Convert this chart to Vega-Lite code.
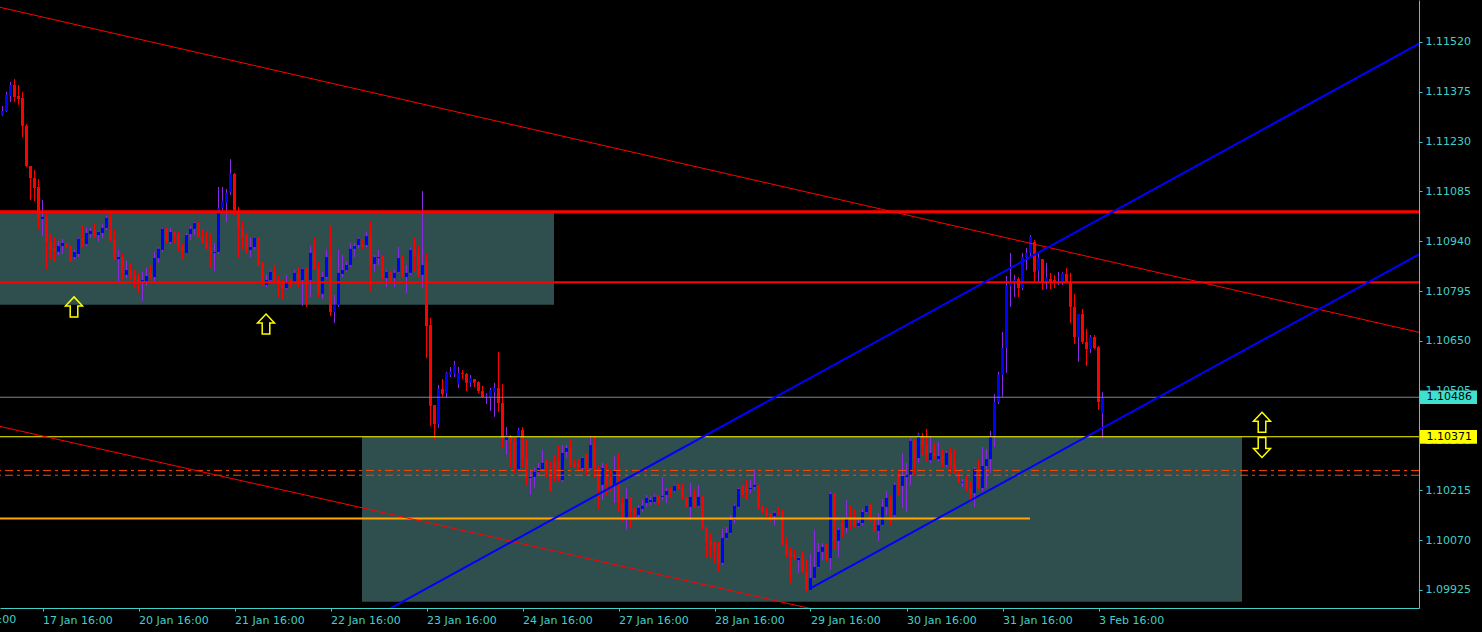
{
"$schema":"https://vega.github.io/schema/vega-lite/v6.json",
"width":1419,"height":608,
"autosize":{"type":"none"},
"padding":{"left":0,"top":0,"right":63,"bottom":24},
"background":"#000000",
"config":{"view":{"stroke":null},"axis":{"labelFont":"DejaVu Sans","labelFontSize":11,"labelColor":"#40D0C8","domainColor":"#40D0C8","tickColor":"#40D0C8","grid":false}},
"datasets":{"candles":[
{"x":0,"o":1.11308,"h":1.11334,"l":1.11305,"c":1.11319},
{"x":1,"o":1.11319,"h":1.11375,"l":1.11316,"c":1.11366},
{"x":2,"o":1.11363,"h":1.11404,"l":1.11345,"c":1.11395},
{"x":3,"o":1.11395,"h":1.11412,"l":1.11345,"c":1.1136},
{"x":4,"o":1.11363,"h":1.11395,"l":1.11337,"c":1.11354},
{"x":5,"o":1.11357,"h":1.11375,"l":1.11243,"c":1.11276},
{"x":6,"o":1.11276,"h":1.11281,"l":1.11156,"c":1.11159},
{"x":7,"o":1.11159,"h":1.11159,"l":1.1106,"c":1.11124},
{"x":8,"o":1.11124,"h":1.11147,"l":1.11057,"c":1.11095},
{"x":9,"o":1.11098,"h":1.11121,"l":1.10976,"c":1.11005},
{"x":10,"o":1.11005,"h":1.1106,"l":1.10955,"c":1.11011},
{"x":11,"o":1.11011,"h":1.11019,"l":1.10859,"c":1.10938},
{"x":12,"o":1.10938,"h":1.10961,"l":1.10888,"c":1.10915},
{"x":13,"o":1.1092,"h":1.1095,"l":1.1088,"c":1.10909},
{"x":14,"o":1.10909,"h":1.10941,"l":1.109,"c":1.10926},
{"x":15,"o":1.10926,"h":1.10947,"l":1.10903,"c":1.10935},
{"x":16,"o":1.10935,"h":1.10935,"l":1.1092,"c":1.10923},
{"x":17,"o":1.10926,"h":1.10929,"l":1.1088,"c":1.10883},
{"x":18,"o":1.10894,"h":1.10915,"l":1.10888,"c":1.10909},
{"x":19,"o":1.10903,"h":1.1095,"l":1.10894,"c":1.10947},
{"x":20,"o":1.1095,"h":1.10987,"l":1.10923,"c":1.10923},
{"x":21,"o":1.10932,"h":1.10979,"l":1.10926,"c":1.10964},
{"x":22,"o":1.10961,"h":1.10979,"l":1.1095,"c":1.1097},
{"x":23,"o":1.10973,"h":1.1099,"l":1.1095,"c":1.10955},
{"x":24,"o":1.10958,"h":1.1097,"l":1.10938,"c":1.10967},
{"x":25,"o":1.10964,"h":1.1099,"l":1.1095,"c":1.10979},
{"x":26,"o":1.10979,"h":1.11014,"l":1.10973,"c":1.11008},
{"x":27,"o":1.11008,"h":1.11022,"l":1.10938,"c":1.10944},
{"x":28,"o":1.10944,"h":1.10973,"l":1.10886,"c":1.10888},
{"x":29,"o":1.10888,"h":1.10915,"l":1.10824,"c":1.10894},
{"x":30,"o":1.10894,"h":1.10903,"l":1.10827,"c":1.10848},
{"x":31,"o":1.10842,"h":1.10883,"l":1.10833,"c":1.10856},
{"x":32,"o":1.10854,"h":1.10874,"l":1.10827,"c":1.10836},
{"x":33,"o":1.10839,"h":1.10856,"l":1.10804,"c":1.10827},
{"x":34,"o":1.10836,"h":1.10848,"l":1.1079,"c":1.10822},
{"x":35,"o":1.10824,"h":1.10851,"l":1.10766,"c":1.10827},
{"x":36,"o":1.10824,"h":1.10862,"l":1.1081,"c":1.10839},
{"x":37,"o":1.10848,"h":1.10871,"l":1.10827,"c":1.10833},
{"x":38,"o":1.10836,"h":1.10909,"l":1.10824,"c":1.10891},
{"x":39,"o":1.10891,"h":1.10923,"l":1.10877,"c":1.10918},
{"x":40,"o":1.10915,"h":1.10979,"l":1.10909,"c":1.10976},
{"x":41,"o":1.10976,"h":1.10979,"l":1.10935,"c":1.10938},
{"x":42,"o":1.10938,"h":1.10979,"l":1.10932,"c":1.10967},
{"x":43,"o":1.10967,"h":1.1097,"l":1.10935,"c":1.10958},
{"x":44,"o":1.10961,"h":1.10967,"l":1.10909,"c":1.10923},
{"x":45,"o":1.10926,"h":1.10935,"l":1.10888,"c":1.10906},
{"x":46,"o":1.10906,"h":1.10964,"l":1.10906,"c":1.10958},
{"x":47,"o":1.10961,"h":1.10984,"l":1.10944,"c":1.10976},
{"x":48,"o":1.10976,"h":1.10996,"l":1.10958,"c":1.10993},
{"x":49,"o":1.10993,"h":1.10996,"l":1.1095,"c":1.10952},
{"x":50,"o":1.10952,"h":1.10976,"l":1.10935,"c":1.10938},
{"x":51,"o":1.10941,"h":1.10967,"l":1.10915,"c":1.1092},
{"x":52,"o":1.10923,"h":1.10964,"l":1.10865,"c":1.10906},
{"x":53,"o":1.10906,"h":1.10935,"l":1.10853,"c":1.10909},
{"x":54,"o":1.10909,"h":1.11098,"l":1.10903,"c":1.11037},
{"x":55,"o":1.11037,"h":1.11098,"l":1.11031,"c":1.11057},
{"x":56,"o":1.11051,"h":1.11092,"l":1.10996,"c":1.11081},
{"x":57,"o":1.11083,"h":1.11179,"l":1.11075,"c":1.11136},
{"x":58,"o":1.11136,"h":1.11139,"l":1.11016,"c":1.11031},
{"x":59,"o":1.11025,"h":1.1104,"l":1.10891,"c":1.10979},
{"x":60,"o":1.10976,"h":1.10996,"l":1.10918,"c":1.10952},
{"x":61,"o":1.10958,"h":1.10964,"l":1.10906,"c":1.10915},
{"x":62,"o":1.10915,"h":1.1095,"l":1.10894,"c":1.10923},
{"x":63,"o":1.10923,"h":1.10952,"l":1.10915,"c":1.1095},
{"x":64,"o":1.1095,"h":1.10952,"l":1.10868,"c":1.10871},
{"x":65,"o":1.10877,"h":1.1088,"l":1.1081,"c":1.10822},
{"x":66,"o":1.10813,"h":1.10842,"l":1.10807,"c":1.10827},
{"x":67,"o":1.10827,"h":1.10856,"l":1.10822,"c":1.10851},
{"x":68,"o":1.10851,"h":1.10871,"l":1.10819,"c":1.10822},
{"x":69,"o":1.10827,"h":1.10842,"l":1.10778,"c":1.10816},
{"x":70,"o":1.10822,"h":1.10827,"l":1.10772,"c":1.10804},
{"x":71,"o":1.10804,"h":1.10842,"l":1.10801,"c":1.10819},
{"x":72,"o":1.10822,"h":1.1083,"l":1.10804,"c":1.10816},
{"x":73,"o":1.10822,"h":1.10856,"l":1.10819,"c":1.10848},
{"x":74,"o":1.10848,"h":1.10862,"l":1.10807,"c":1.1083},
{"x":75,"o":1.10827,"h":1.10862,"l":1.10752,"c":1.10859},
{"x":76,"o":1.10859,"h":1.10862,"l":1.10749,"c":1.10813},
{"x":77,"o":1.10827,"h":1.10926,"l":1.10778,"c":1.10906},
{"x":78,"o":1.10909,"h":1.1095,"l":1.10856,"c":1.10859},
{"x":79,"o":1.10862,"h":1.1088,"l":1.10778,"c":1.10784},
{"x":80,"o":1.10787,"h":1.10851,"l":1.10772,"c":1.10836},
{"x":81,"o":1.10836,"h":1.10915,"l":1.1083,"c":1.10894},
{"x":82,"o":1.10897,"h":1.10984,"l":1.10722,"c":1.10734},
{"x":83,"o":1.10734,"h":1.10784,"l":1.10702,"c":1.10755},
{"x":84,"o":1.10755,"h":1.10915,"l":1.10749,"c":1.10848},
{"x":85,"o":1.10845,"h":1.109,"l":1.10836,"c":1.10856},
{"x":86,"o":1.10856,"h":1.1088,"l":1.10851,"c":1.10871},
{"x":87,"o":1.10871,"h":1.10935,"l":1.10865,"c":1.10918},
{"x":88,"o":1.10918,"h":1.10935,"l":1.10894,"c":1.10926},
{"x":89,"o":1.10929,"h":1.10952,"l":1.1092,"c":1.10947},
{"x":90,"o":1.10932,"h":1.10947,"l":1.10918,"c":1.10923},
{"x":91,"o":1.10929,"h":1.10967,"l":1.10923,"c":1.10955},
{"x":92,"o":1.10955,"h":1.10996,"l":1.10795,"c":1.10871},
{"x":93,"o":1.10874,"h":1.109,"l":1.10851,"c":1.10894},
{"x":94,"o":1.10891,"h":1.10915,"l":1.10871,"c":1.10894},
{"x":95,"o":1.10897,"h":1.109,"l":1.10827,"c":1.10833},
{"x":96,"o":1.10833,"h":1.10856,"l":1.10807,"c":1.10851},
{"x":97,"o":1.10851,"h":1.10854,"l":1.10822,"c":1.10827},
{"x":98,"o":1.10833,"h":1.10856,"l":1.10807,"c":1.10848},
{"x":99,"o":1.10851,"h":1.10923,"l":1.10848,"c":1.10891},
{"x":100,"o":1.10894,"h":1.109,"l":1.10833,"c":1.10836},
{"x":101,"o":1.10836,"h":1.10871,"l":1.1079,"c":1.10848},
{"x":102,"o":1.10848,"h":1.1092,"l":1.10842,"c":1.10915},
{"x":103,"o":1.10915,"h":1.1095,"l":1.10851,"c":1.10897},
{"x":104,"o":1.10906,"h":1.10926,"l":1.10836,"c":1.10842},
{"x":105,"o":1.10842,"h":1.11086,"l":1.10804,"c":1.10871},
{"x":106,"o":1.1088,"h":1.10903,"l":1.106,"c":1.10693},
{"x":107,"o":1.10696,"h":1.10717,"l":1.10402,"c":1.10461},
{"x":108,"o":1.10463,"h":1.10463,"l":1.10362,"c":1.10408},
{"x":109,"o":1.10408,"h":1.10522,"l":1.10397,"c":1.1051},
{"x":110,"o":1.1051,"h":1.10539,"l":1.10487,"c":1.10495},
{"x":111,"o":1.10498,"h":1.1056,"l":1.10484,"c":1.10557},
{"x":112,"o":1.10551,"h":1.10574,"l":1.10545,"c":1.1056},
{"x":113,"o":1.10554,"h":1.10592,"l":1.10545,"c":1.1058},
{"x":114,"o":1.10525,"h":1.10574,"l":1.10513,"c":1.10557},
{"x":115,"o":1.10557,"h":1.10565,"l":1.10539,"c":1.10554},
{"x":116,"o":1.10554,"h":1.10557,"l":1.10504,"c":1.10528},
{"x":117,"o":1.10528,"h":1.10551,"l":1.10516,"c":1.10542},
{"x":118,"o":1.10539,"h":1.10539,"l":1.10516,"c":1.10528},
{"x":119,"o":1.1053,"h":1.10533,"l":1.10498,"c":1.10504},
{"x":120,"o":1.10504,"h":1.10519,"l":1.10484,"c":1.10487},
{"x":121,"o":1.1049,"h":1.10498,"l":1.10466,"c":1.10493},
{"x":122,"o":1.10487,"h":1.10513,"l":1.10446,"c":1.10507},
{"x":123,"o":1.10501,"h":1.10528,"l":1.10429,"c":1.10513},
{"x":124,"o":1.10513,"h":1.10618,"l":1.10443,"c":1.10469},
{"x":125,"o":1.10469,"h":1.10525,"l":1.10341,"c":1.10362},
{"x":126,"o":1.10362,"h":1.10399,"l":1.10318,"c":1.10376},
{"x":127,"o":1.10373,"h":1.10376,"l":1.10283,"c":1.10356},
{"x":128,"o":1.10356,"h":1.1037,"l":1.10266,"c":1.1028},
{"x":129,"o":1.10277,"h":1.10397,"l":1.10274,"c":1.10391},
{"x":130,"o":1.10391,"h":1.10399,"l":1.10283,"c":1.10309},
{"x":131,"o":1.10309,"h":1.10362,"l":1.10228,"c":1.10251},
{"x":132,"o":1.10251,"h":1.10274,"l":1.10202,"c":1.10254},
{"x":133,"o":1.10254,"h":1.1028,"l":1.10222,"c":1.10269},
{"x":134,"o":1.10269,"h":1.10295,"l":1.1026,"c":1.1028},
{"x":135,"o":1.10277,"h":1.10333,"l":1.10274,"c":1.10295},
{"x":136,"o":1.10298,"h":1.10303,"l":1.10254,"c":1.1026},
{"x":137,"o":1.10274,"h":1.10298,"l":1.1021,"c":1.10216},
{"x":138,"o":1.10298,"h":1.10318,"l":1.10239,"c":1.10251},
{"x":139,"o":1.10303,"h":1.10344,"l":1.10242,"c":1.10245},
{"x":140,"o":1.10245,"h":1.10347,"l":1.10239,"c":1.10324},
{"x":141,"o":1.10327,"h":1.10347,"l":1.10309,"c":1.10338},
{"x":142,"o":1.10338,"h":1.10362,"l":1.10283,"c":1.10289},
{"x":143,"o":1.10295,"h":1.10306,"l":1.1028,"c":1.10283},
{"x":144,"o":1.10292,"h":1.10306,"l":1.10274,"c":1.10283},
{"x":145,"o":1.1028,"h":1.10312,"l":1.10274,"c":1.10309},
{"x":146,"o":1.10318,"h":1.10324,"l":1.1026,"c":1.10269},
{"x":147,"o":1.1028,"h":1.10373,"l":1.10274,"c":1.10347},
{"x":148,"o":1.10347,"h":1.10373,"l":1.10254,"c":1.1028},
{"x":149,"o":1.1028,"h":1.10289,"l":1.10158,"c":1.10216},
{"x":150,"o":1.10231,"h":1.10295,"l":1.10187,"c":1.1028},
{"x":151,"o":1.1026,"h":1.10292,"l":1.10202,"c":1.10231},
{"x":152,"o":1.10251,"h":1.10274,"l":1.1021,"c":1.10228},
{"x":153,"o":1.10231,"h":1.10315,"l":1.10178,"c":1.10274},
{"x":154,"o":1.10239,"h":1.10324,"l":1.10152,"c":1.10178},
{"x":155,"o":1.10178,"h":1.10196,"l":1.10123,"c":1.10135},
{"x":156,"o":1.10132,"h":1.10222,"l":1.101,"c":1.1019},
{"x":157,"o":1.10193,"h":1.10196,"l":1.10108,"c":1.10152},
{"x":158,"o":1.10158,"h":1.10164,"l":1.10129,"c":1.10143},
{"x":159,"o":1.10143,"h":1.10172,"l":1.10138,"c":1.10164},
{"x":160,"o":1.10161,"h":1.10187,"l":1.10152,"c":1.1017},
{"x":161,"o":1.10178,"h":1.10202,"l":1.10167,"c":1.10193},
{"x":162,"o":1.10181,"h":1.10196,"l":1.10172,"c":1.10187},
{"x":163,"o":1.10181,"h":1.10204,"l":1.10178,"c":1.10196},
{"x":164,"o":1.10199,"h":1.10202,"l":1.10172,"c":1.10178},
{"x":165,"o":1.10196,"h":1.10254,"l":1.10187,"c":1.10199},
{"x":166,"o":1.10202,"h":1.10222,"l":1.10178,"c":1.10213},
{"x":167,"o":1.10219,"h":1.10225,"l":1.10196,"c":1.10207},
{"x":168,"o":1.10213,"h":1.10231,"l":1.1021,"c":1.10228},
{"x":169,"o":1.10231,"h":1.10234,"l":1.10219,"c":1.10222},
{"x":170,"o":1.10225,"h":1.10234,"l":1.10187,"c":1.10196},
{"x":171,"o":1.10196,"h":1.10196,"l":1.10164,"c":1.10167},
{"x":172,"o":1.10167,"h":1.10237,"l":1.10129,"c":1.10196},
{"x":173,"o":1.10196,"h":1.10216,"l":1.10164,"c":1.10167},
{"x":174,"o":1.1017,"h":1.10231,"l":1.10167,"c":1.10196},
{"x":175,"o":1.10196,"h":1.10199,"l":1.101,"c":1.10108},
{"x":176,"o":1.10108,"h":1.10108,"l":1.10021,"c":1.10065},
{"x":177,"o":1.10068,"h":1.10091,"l":1.10018,"c":1.10056},
{"x":178,"o":1.10065,"h":1.10065,"l":1.10004,"c":1.10039},
{"x":179,"o":1.10059,"h":1.10065,"l":1.09978,"c":1.10001},
{"x":180,"o":1.10004,"h":1.10103,"l":1.09998,"c":1.10076},
{"x":181,"o":1.10076,"h":1.10108,"l":1.10071,"c":1.10091},
{"x":182,"o":1.10091,"h":1.10143,"l":1.10088,"c":1.10129},
{"x":183,"o":1.10129,"h":1.10175,"l":1.1012,"c":1.1017},
{"x":184,"o":1.10167,"h":1.10222,"l":1.10164,"c":1.10219},
{"x":185,"o":1.10228,"h":1.10231,"l":1.10196,"c":1.10202},
{"x":186,"o":1.10228,"h":1.10245,"l":1.10187,"c":1.1021},
{"x":187,"o":1.10219,"h":1.10245,"l":1.10207,"c":1.10222},
{"x":188,"o":1.10225,"h":1.10277,"l":1.10216,"c":1.10231},
{"x":189,"o":1.10228,"h":1.10231,"l":1.10158,"c":1.10164},
{"x":190,"o":1.10167,"h":1.10172,"l":1.10149,"c":1.10152},
{"x":191,"o":1.10155,"h":1.10164,"l":1.10138,"c":1.1014},
{"x":192,"o":1.10146,"h":1.10149,"l":1.10123,"c":1.10138},
{"x":193,"o":1.1014,"h":1.10155,"l":1.10114,"c":1.10149},
{"x":194,"o":1.10152,"h":1.10167,"l":1.10143,"c":1.10149},
{"x":195,"o":1.10152,"h":1.10158,"l":1.10054,"c":1.10057},
{"x":196,"o":1.10059,"h":1.10076,"l":1.10021,"c":1.10027},
{"x":197,"o":1.10036,"h":1.1005,"l":1.09946,"c":1.10021},
{"x":198,"o":1.10027,"h":1.10042,"l":1.10012,"c":1.10021},
{"x":199,"o":1.10012,"h":1.10021,"l":1.09975,"c":1.10018},
{"x":200,"o":1.10027,"h":1.10036,"l":1.09975,"c":1.09978},
{"x":201,"o":1.09978,"h":1.10012,"l":1.09922,"c":1.09925},
{"x":202,"o":1.09925,"h":1.1003,"l":1.09925,"c":1.0996},
{"x":203,"o":1.0996,"h":1.101,"l":1.09954,"c":1.09992},
{"x":204,"o":1.09992,"h":1.10062,"l":1.09989,"c":1.10036},
{"x":205,"o":1.10036,"h":1.10062,"l":1.10012,"c":1.1005},
{"x":206,"o":1.10056,"h":1.10059,"l":1.10009,"c":1.10012},
{"x":207,"o":1.10018,"h":1.1021,"l":1.09983,"c":1.10204},
{"x":208,"o":1.10207,"h":1.10207,"l":1.10042,"c":1.10068},
{"x":209,"o":1.10068,"h":1.10106,"l":1.10021,"c":1.101},
{"x":210,"o":1.10123,"h":1.10132,"l":1.10076,"c":1.101},
{"x":211,"o":1.10106,"h":1.10187,"l":1.10091,"c":1.10135},
{"x":212,"o":1.10138,"h":1.1017,"l":1.101,"c":1.10129},
{"x":213,"o":1.10138,"h":1.10158,"l":1.10108,"c":1.10111},
{"x":214,"o":1.10111,"h":1.10132,"l":1.10108,"c":1.1012},
{"x":215,"o":1.1012,"h":1.10161,"l":1.10114,"c":1.10152},
{"x":216,"o":1.10152,"h":1.10172,"l":1.10149,"c":1.1017},
{"x":217,"o":1.10175,"h":1.10178,"l":1.10123,"c":1.10129},
{"x":218,"o":1.10132,"h":1.10138,"l":1.10094,"c":1.10097},
{"x":219,"o":1.10097,"h":1.10149,"l":1.10068,"c":1.10114},
{"x":220,"o":1.10114,"h":1.1019,"l":1.10111,"c":1.10167},
{"x":221,"o":1.10167,"h":1.10213,"l":1.10143,"c":1.10193},
{"x":222,"o":1.1019,"h":1.10202,"l":1.10114,"c":1.10138},
{"x":223,"o":1.10143,"h":1.10237,"l":1.10138,"c":1.10231},
{"x":224,"o":1.10266,"h":1.10274,"l":1.10199,"c":1.10202},
{"x":225,"o":1.10228,"h":1.10324,"l":1.10164,"c":1.10257},
{"x":226,"o":1.10254,"h":1.10295,"l":1.10152,"c":1.1026},
{"x":227,"o":1.1026,"h":1.10367,"l":1.10231,"c":1.10359},
{"x":228,"o":1.10359,"h":1.10365,"l":1.1026,"c":1.10309},
{"x":229,"o":1.10309,"h":1.10382,"l":1.10295,"c":1.10379},
{"x":230,"o":1.10373,"h":1.10382,"l":1.10315,"c":1.10344},
{"x":231,"o":1.10347,"h":1.10394,"l":1.10298,"c":1.10318},
{"x":232,"o":1.10303,"h":1.10373,"l":1.10295,"c":1.10324},
{"x":233,"o":1.10324,"h":1.1035,"l":1.10306,"c":1.10315},
{"x":234,"o":1.10306,"h":1.10356,"l":1.103,"c":1.10315},
{"x":235,"o":1.10321,"h":1.10335,"l":1.10283,"c":1.10289},
{"x":236,"o":1.10289,"h":1.1033,"l":1.10283,"c":1.10324},
{"x":237,"o":1.10324,"h":1.10338,"l":1.10266,"c":1.10289},
{"x":238,"o":1.10295,"h":1.10333,"l":1.10263,"c":1.10266},
{"x":239,"o":1.10266,"h":1.10269,"l":1.10237,"c":1.10239},
{"x":240,"o":1.10237,"h":1.10248,"l":1.10225,"c":1.10239},
{"x":241,"o":1.10248,"h":1.1026,"l":1.10213,"c":1.10219},
{"x":242,"o":1.10222,"h":1.10242,"l":1.10181,"c":1.10207},
{"x":243,"o":1.10207,"h":1.10283,"l":1.10167,"c":1.10277},
{"x":244,"o":1.10277,"h":1.10303,"l":1.10216,"c":1.10222},
{"x":245,"o":1.10222,"h":1.10341,"l":1.10213,"c":1.10286},
{"x":246,"o":1.10286,"h":1.10335,"l":1.10222,"c":1.10306},
{"x":247,"o":1.10306,"h":1.10388,"l":1.10266,"c":1.10373},
{"x":248,"o":1.10373,"h":1.10495,"l":1.10341,"c":1.10472},
{"x":249,"o":1.10472,"h":1.1056,"l":1.10466,"c":1.10551},
{"x":250,"o":1.10551,"h":1.10676,"l":1.10487,"c":1.10629},
{"x":251,"o":1.10629,"h":1.10839,"l":1.10557,"c":1.1081},
{"x":252,"o":1.1081,"h":1.10906,"l":1.10749,"c":1.10822},
{"x":253,"o":1.10822,"h":1.10842,"l":1.10778,"c":1.10827},
{"x":254,"o":1.1083,"h":1.10836,"l":1.10778,"c":1.10804},
{"x":255,"o":1.10804,"h":1.10906,"l":1.10798,"c":1.10894},
{"x":256,"o":1.10894,"h":1.1092,"l":1.10856,"c":1.10906},
{"x":257,"o":1.10906,"h":1.10958,"l":1.10891,"c":1.10952},
{"x":258,"o":1.10938,"h":1.10944,"l":1.10822,"c":1.10851},
{"x":259,"o":1.10854,"h":1.10906,"l":1.10822,"c":1.10891},
{"x":260,"o":1.10888,"h":1.10888,"l":1.10798,"c":1.10822},
{"x":261,"o":1.10822,"h":1.10877,"l":1.10801,"c":1.10833},
{"x":262,"o":1.1083,"h":1.10848,"l":1.10801,"c":1.10819},
{"x":263,"o":1.10827,"h":1.10842,"l":1.10804,"c":1.10819},
{"x":264,"o":1.10822,"h":1.10851,"l":1.10813,"c":1.10824},
{"x":265,"o":1.10822,"h":1.10851,"l":1.10813,"c":1.10848},
{"x":266,"o":1.10845,"h":1.10862,"l":1.10819,"c":1.10822},
{"x":267,"o":1.10822,"h":1.10848,"l":1.10702,"c":1.10749},
{"x":268,"o":1.10749,"h":1.10787,"l":1.10641,"c":1.10661},
{"x":269,"o":1.10661,"h":1.10728,"l":1.10589,"c":1.10728},
{"x":270,"o":1.10728,"h":1.10743,"l":1.10641,"c":1.10647},
{"x":271,"o":1.10647,"h":1.10685,"l":1.10577,"c":1.10626},
{"x":272,"o":1.10626,"h":1.10667,"l":1.10615,"c":1.10661},
{"x":273,"o":1.10661,"h":1.10667,"l":1.10626,"c":1.10629},
{"x":274,"o":1.10632,"h":1.10635,"l":1.10449,"c":1.10472},
{"x":275,"o":1.1044,"h":1.10501,"l":1.10365,"c":1.10486}
]},
"layer":[
{"data":{"values":[{"x1":-5,"x2":137.875,"p1":1.11028,"p2":1.10755},{"x1":89.875,"x2":309.875,"p1":1.10371,"p2":1.09891}]},
 "mark":{"type":"rect","fill":"#2F4F4F","clip":true},
 "encoding":{
  "x":{"field":"x1","type":"quantitative","scale":{"domain":[-0.625,354.125],"nice":false,"zero":false,"padding":0},
   "axis":{"orient":"bottom","title":null,"values":[10,34,58,82,106,130,154,178,202,226,250,274],
    "labelExpr":"['17 Jan 16:00','20 Jan 16:00','21 Jan 16:00','22 Jan 16:00','23 Jan 16:00','24 Jan 16:00','27 Jan 16:00','28 Jan 16:00','29 Jan 16:00','30 Jan 16:00','31 Jan 16:00','3 Feb 16:00'][(datum.value-10)/24]",
    "labelAlign":"left","labelBaseline":"top","labelPadding":3,"tickSize":3,"labelFlush":false,"labelOverlap":false,"grid":false}},
  "x2":{"field":"x2"},
  "y":{"field":"p1","type":"quantitative","scale":{"domain":[1.098726,1.116422],"nice":false,"zero":false,"padding":0},
   "axis":{"orient":"right","title":null,"values":[1.09925,1.1007,1.10215,1.1036,1.10505,1.1065,1.10795,1.1094,1.11085,1.1123,1.11375,1.1152],
    "format":".5f","labelAlign":"left","labelBaseline":"middle","labelPadding":3,"tickSize":3,"labelFlush":false,"labelOverlap":false,"grid":false}},
  "y2":{"field":"p2"}}},
{"data":{"name":"candles"},
 "mark":{"type":"rule","strokeWidth":1},
 "encoding":{"x":{"field":"x","type":"quantitative"},"y":{"field":"l","type":"quantitative"},"y2":{"field":"h"},
  "color":{"condition":{"test":"datum.c > datum.o","value":"#8A2BE2"},"value":"#FF0000"}}},
{"data":{"name":"candles"},
 "mark":{"type":"bar","size":3},
 "encoding":{"x":{"field":"x","type":"quantitative"},"y":{"field":"o","type":"quantitative"},"y2":{"field":"c"},
  "color":{"condition":{"test":"datum.c > datum.o","value":"#0000FF"},"value":"#FF0000"}}},
{"data":{"values":[{"p":1.11026}]},"mark":{"type":"rule","color":"#FF0000","strokeWidth":3},
 "encoding":{"y":{"field":"p","type":"quantitative"}}},
{"data":{"values":[{"p":1.10821}]},"mark":{"type":"rule","color":"#FF0000","strokeWidth":2},
 "encoding":{"y":{"field":"p","type":"quantitative"}}},
{"data":{"values":[{"p":1.10486}]},"mark":{"type":"rule","color":"#778899","strokeWidth":1},
 "encoding":{"y":{"field":"p","type":"quantitative"}}},
{"data":{"values":[{"p":1.10371}]},"mark":{"type":"rule","color":"#FFFF00","strokeWidth":1},
 "encoding":{"y":{"field":"p","type":"quantitative"}}},
{"data":{"values":[{"p":1.10273},{"p":1.10259}]},"mark":{"type":"rule","color":"#FF4500","strokeWidth":1,"strokeDash":[8,4,3,4]},
 "encoding":{"y":{"field":"p","type":"quantitative"}}},
{"data":{"values":[{"x1":-0.625,"x2":256.875,"p":1.10133}]},"mark":{"type":"rule","color":"#FFA500","strokeWidth":2,"clip":true},
 "encoding":{"x":{"field":"x1","type":"quantitative"},"x2":{"field":"x2"},"y":{"field":"p","type":"quantitative"}}},
{"data":{"values":[{"x1":-0.625,"p1":1.11621,"x2":354.125,"p2":1.10675},{"x1":-0.625,"p1":1.10401,"x2":211.95,"p2":1.09845}]},
 "mark":{"type":"rule","color":"#FF0000","strokeWidth":1,"clip":true},
 "encoding":{"x":{"field":"x1","type":"quantitative"},"x2":{"field":"x2"},"y":{"field":"p1","type":"quantitative"},"y2":{"field":"p2"}}},
{"data":{"values":[{"x1":94.375,"p1":1.09855,"x2":354.125,"p2":1.11515},{"x1":201.95,"p1":1.0993,"x2":354.125,"p2":1.10902}]},
 "mark":{"type":"rule","color":"#0000FF","strokeWidth":2,"clip":true},
 "encoding":{"x":{"field":"x1","type":"quantitative"},"x2":{"field":"x2"},"y":{"field":"p1","type":"quantitative"},"y2":{"field":"p2"}}},
{"data":{"values":[{"x":17.875,"p":1.10749,"d":"up"},{"x":65.875,"p":1.10699,"d":"up"},{"x":314.875,"p":1.10413,"d":"up"},{"x":314.875,"p":1.1034,"d":"down"}]},
 "mark":{"type":"point","filled":false,"stroke":"#FFFF00","strokeWidth":1.5,"size":400,"opacity":1},
 "encoding":{"x":{"field":"x","type":"quantitative"},"y":{"field":"p","type":"quantitative"},
  "shape":{"condition":{"test":"datum.d == 'up'","value":"M0,-1L0.85,-0.1L0.38,-0.1L0.38,1L-0.38,1L-0.38,-0.1L-0.85,-0.1Z"},"value":"M0,1L0.85,0.1L0.38,0.1L0.38,-1L-0.38,-1L-0.38,0.1L-0.85,0.1Z"}}},
{"data":{"values":[{"x":-14,"p":1.09855,"t":"16 Jan 16:00"}]},
 "mark":{"type":"text","clip":false,"align":"left","baseline":"top","font":"DejaVu Sans","fontSize":11,"color":"#40D0C8"},
 "encoding":{"x":{"field":"x","type":"quantitative"},"y":{"field":"p","type":"quantitative"},"text":{"field":"t"}}},
{"data":{"values":[{"x1":354.375,"x2":368.625,"xt":356,"p":1.10486,"hi":1.10506,"lo":1.10466,"t":"1.10486"},{"x1":354.375,"x2":368.625,"xt":356,"p":1.10371,"hi":1.10391,"lo":1.10351,"t":"1.10371"}]},
 "layer":[
  {"mark":{"type":"rect","clip":false},
   "encoding":{"x":{"field":"x1","type":"quantitative"},"x2":{"field":"x2"},"y":{"field":"hi","type":"quantitative"},"y2":{"field":"lo"},
    "color":{"condition":{"test":"datum.t == '1.10486'","value":"#40E0D0"},"value":"#FFFF00"}}},
  {"mark":{"type":"text","clip":false,"align":"left","baseline":"middle","font":"DejaVu Sans","fontSize":11,"color":"#000000"},
   "encoding":{"x":{"field":"xt","type":"quantitative"},"y":{"field":"p","type":"quantitative"},"text":{"field":"t"}}}
 ]}
]
}
